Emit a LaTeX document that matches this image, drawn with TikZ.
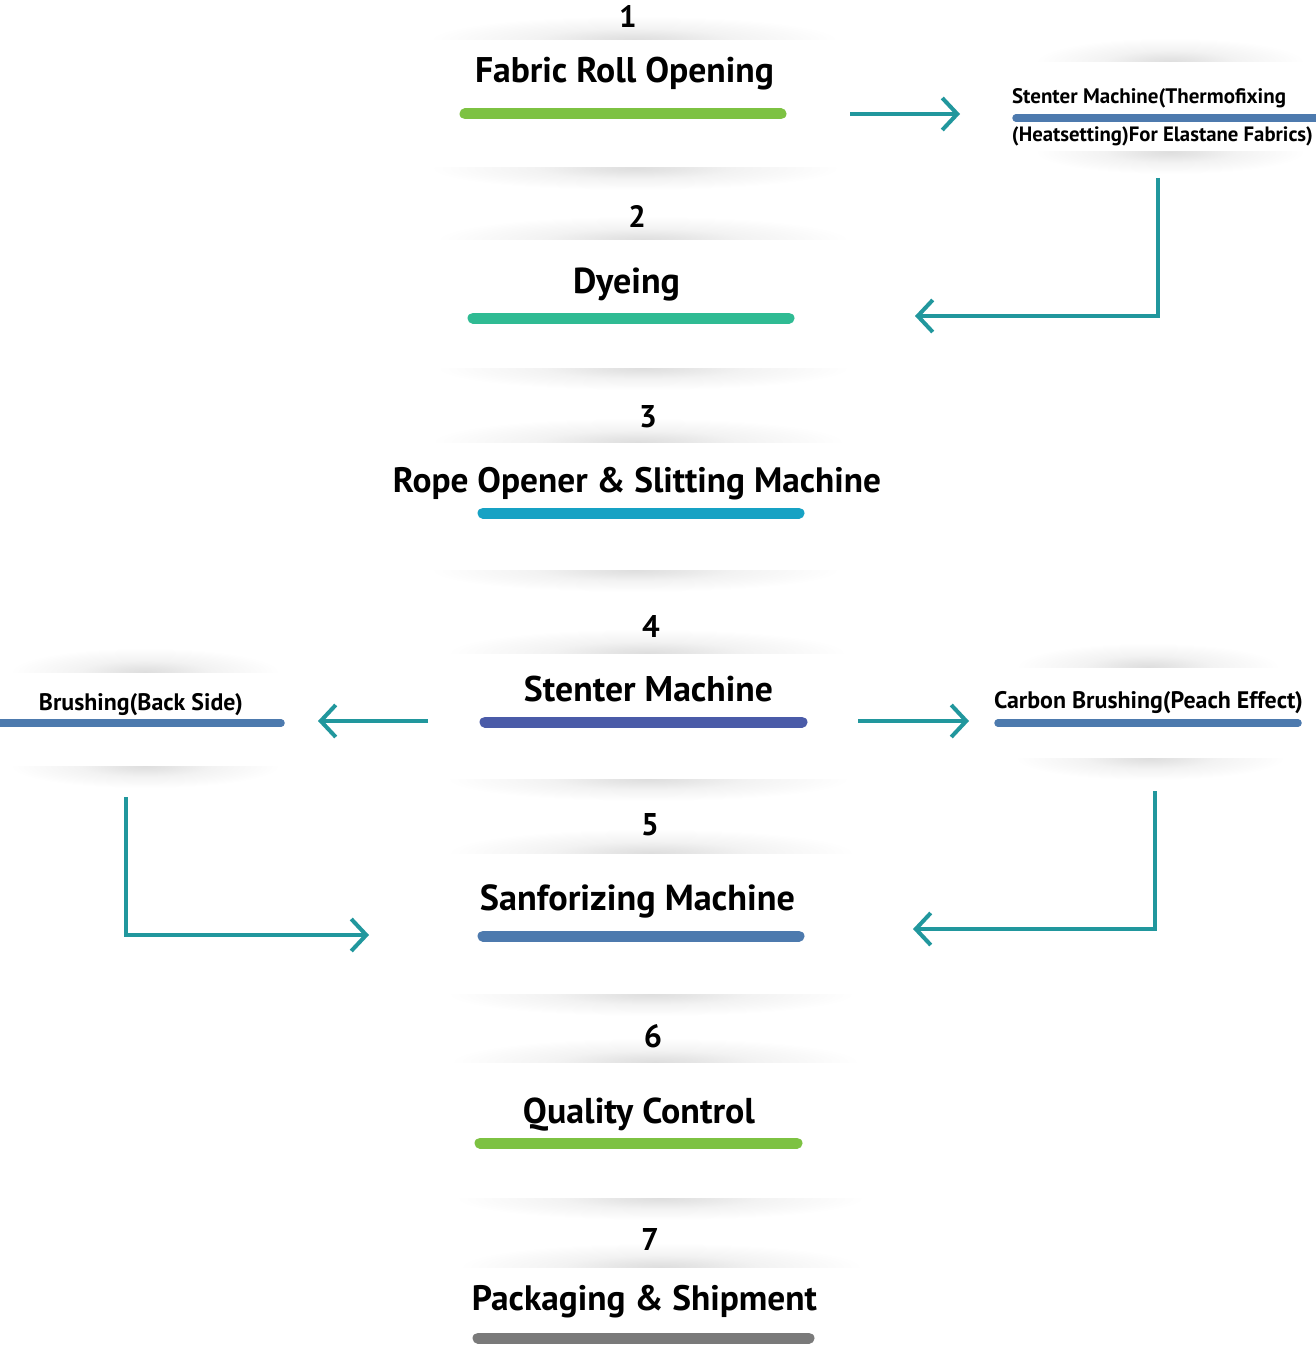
\documentclass[tikz,border=0pt]{standalone}
\usepackage{fontspec}
\setmainfont{PT Sans}
\usepackage{graphicx}
\usetikzlibrary{arrows.meta}
\definecolor{barGreen}{HTML}{7DC242}
\definecolor{barMint}{HTML}{2FBB93}
\definecolor{barCyan}{HTML}{17A2C4}
\definecolor{barIndigo}{HTML}{4A5BA8}
\definecolor{barSteel}{HTML}{4D7AAE}
\definecolor{barGray}{HTML}{7A7A7A}
\definecolor{flowTeal}{HTML}{21979D}
\pgfdeclareradialshading{softshadow}{\pgfpoint{0bp}{0bp}}{color(0bp)=(black!13); color(5bp)=(black!10); color(12bp)=(black!5); color(20bp)=(black!2); color(25bp)=(white); color(50bp)=(white)}
\newcommand\fitw[2]{\resizebox{#1pt}{!}{#2}}
\newcommand\fith[2]{\resizebox{!}{#1pt}{#2}}
\newcommand\topshade[3]{\begin{scope}\clip ({#1-#3},{#2-30}) rectangle ({#1+#3},#2);
  \shade[shading=softshadow] (#1,#2) ellipse [x radius=#3, y radius=24];\end{scope}}
\newcommand\botshade[3]{\begin{scope}\clip ({#1-#3},#2) rectangle ({#1+#3},{#2+30});
  \shade[shading=softshadow] (#1,#2) ellipse [x radius=#3, y radius=22];\end{scope}}
\begin{document}
\begin{tikzpicture}[x=1pt,y=-1pt,
  title/.style={inner sep=0pt, anchor=base, font=\bfseries},
  bar/.style={line width=11pt, line cap=round},
  sidebar/.style={line width=7.5pt, line cap=round, draw=barSteel},
  flow/.style={draw=flowTeal, line width=4pt, line join=miter, -{Straight Barb[length=15pt,width=32pt]}}]
\useasboundingbox[fill=white] (0,0) rectangle (1315,1348);
% shadows
\topshade{634}{40}{205}   \botshade{635}{168}{205}
\topshade{643}{240}{207}  \botshade{643}{368}{207}
\topshade{638}{442}{207}  \botshade{635}{570}{205}
\topshade{647}{653}{200}  \botshade{648}{779}{202}
\topshade{651}{853}{204}  \botshade{651}{994}{204}
\topshade{655}{1062}{205} \botshade{660}{1198}{205}
\topshade{661}{1267}{202}
\topshade{1170}{62}{135}  \botshade{1170}{152}{135}
\topshade{145}{672}{135}  \botshade{145}{766}{135}
\topshade{1148}{667}{132} \botshade{1150}{758}{135}
% numbers
\node[title] (n1) at (628,28)   {\fith{22}{1}};
\node[title] (n2) at (637,228)  {\fith{22}{2}};
\node[title] (n3) at (648,427)  {\fith{22}{3}};
\node[title] (n4) at (651,637)  {\fith{22}{4}};
\node[title] (n5) at (650,835)  {\fith{22}{5}};
\node[title] (n6) at (653,1047) {\fith{23}{6}};
\node[title] (n7) at (650,1250) {\fith{22}{7}};
% titles
\node[title] (s1) at (624.5,83) {\fitw{299}{Fabric Roll Opening}};
\node[title] (s2) at (626.5,293) {\fitw{107}{Dyeing}};
\node[title] (s3) at (637,492) {\fitw{488}{Rope Opener \& Slitting Machine}};
\node[title] (s4) at (648.5,701) {\fitw{249}{Stenter Machine}};
\node[title] (s5) at (637.5,910) {\fitw{315}{Sanforizing Machine}};
\node[title] (s6) at (639,1123) {\fitw{232}{Quality Control}};
\node[title] (s7) at (644.5,1310) {\fitw{345}{Packaging \& Shipment}};
% side texts
\node[title] (hA) at (1149,104) {\fitw{274}{Stenter Machine(Thermofixing}};
\node[title] (hB) at (1162.5,142) {\fitw{301}{(Heatsetting)For Elastane Fabrics)}};
\node[title] (bb) at (141,710) {\fitw{204}{Brushing(Back Side)}};
\node[title] (cb) at (1148.5,708) {\fitw{309}{Carbon Brushing(Peach Effect)}};
% bars
\draw[bar, barGreen]  (465,114) -- (781,114);
\draw[bar, barMint]   (473,318) -- (789,318);
\draw[bar, barCyan]   (483,513) -- (799,513);
\draw[bar, barIndigo] (485,722) -- (802,722);
\draw[bar, barSteel]  (483,936) -- (799,936);
\draw[bar, barGreen]  (480,1143) -- (797,1143);
\draw[bar, barGray]   (478,1338) -- (809,1338);
\draw[sidebar] (1016,118) -- (1320,118);
\draw[sidebar] (-5,723) -- (281,723);
\draw[sidebar] (998,723) -- (1298,723);
% connector end points
\coordinate (a1s) at (850,114);  \coordinate (a1e) at (960,114);
\coordinate (a2s) at (1158,178); \coordinate (a2c) at (1158,316); \coordinate (a2e) at (915,316);
\coordinate (a3s) at (428,721);  \coordinate (a3e) at (318,721);
\coordinate (a4s) at (858,721);  \coordinate (a4e) at (969,721);
\coordinate (a5s) at (126,797);  \coordinate (a5c) at (126,935); \coordinate (a5e) at (369,935);
\coordinate (a6s) at (1155,791); \coordinate (a6c) at (1155,929); \coordinate (a6e) at (913,929);
\draw[flow] (a1s) -- (a1e);
\draw[flow] (a2s) -- (a2c) -- (a2e);
\draw[flow] (a3s) -- (a3e);
\draw[flow] (a4s) -- (a4e);
\draw[flow] (a5s) -- (a5c) -- (a5e);
\draw[flow] (a6s) -- (a6c) -- (a6e);
\end{tikzpicture}
\end{document}
